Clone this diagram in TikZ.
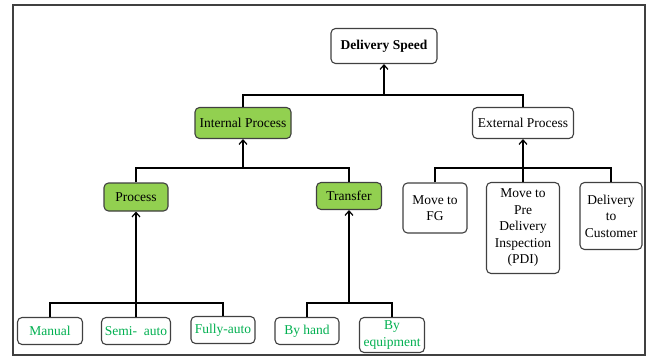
\documentclass[tikz,border=0pt]{standalone}
\usepackage{fontspec}
\setmainfont{Liberation Serif}
\usetikzlibrary{arrows.meta,positioning}
\definecolor{leafgreen}{HTML}{00B050}
\definecolor{boxgreen}{HTML}{92D050}
\definecolor{edgegray}{HTML}{404040}

\begin{document}
\begin{tikzpicture}[
    x=1pt, y=-1pt,
    every node/.style={font=\rmfamily\fontsize{13.5}{16.5}\selectfont},
    box/.style={draw=edgegray, line width=1.1pt, rounded corners=4.5pt, align=center, inner sep=0pt, fill=white},
    inbox/.style={box, fill=boxgreen},
    leaf/.style={box, text=leafgreen, minimum height=27pt},
    link/.style={line width=1.1pt},
    flow/.style={-{Straight Barb[length=4.5pt,width=8pt]}, line width=1.2pt}
]
\useasboundingbox (0,0) rectangle (655,358);
\draw[edgegray, line width=1.3pt] (13,5) rectangle (645,355);
% top levels
\node[box, minimum width=106pt, minimum height=35pt] (speed) at (384,46) {\textbf{Delivery Speed}};
\node[inbox, minimum width=96pt, minimum height=31pt] (internal) at (243,123) {Internal Process};
\node[box, minimum width=101pt, minimum height=31pt] (external) at (523,123) {External Process};
\node[inbox, minimum width=64pt, minimum height=28pt] (process) at (136,197) {Process};
\node[inbox, minimum width=65pt, minimum height=27pt] (transfer) at (349,196) {Transfer};
% external steps
\node[box, minimum width=64pt, minimum height=50pt] (movefg) at (435,208) {Move to\\FG};
\node[box, minimum width=73pt, minimum height=91pt] (movepdi) at (523,228) {Move to\\Pre\\Delivery\\Inspection\\(PDI)};
\node[box, minimum width=62pt, minimum height=67pt] (customer) at (611,216) {Delivery\\to\\Customer};
% leaves
\node[leaf, minimum width=65pt] (manual) at (50,331) {Manual};
\node[leaf, minimum width=69pt] (semi) at (136,331) {Semi-\ \ auto};
\node[leaf, minimum width=64pt] (fully) at (223,330) {Fully-auto};
\node[leaf, minimum width=64pt] (byhand) at (307,331) {By hand};
\node[leaf, minimum width=65pt, minimum height=35pt] (byequip) at (392,335) {By\\equipment};
% junctions
\coordinate (jtop) at (384,95);
\coordinate (jint) at (243,168);
\coordinate (jext) at (523,168);
\coordinate (jproc) at (136,303);
\coordinate (jtrans) at (349,303);
\draw[link] (internal.north) |- (jtop) -| (external.north);
\draw[flow] (jtop) -- (speed.south);
\draw[link] (process.north) |- (jint) -| (transfer.north);
\draw[flow] (jint) -- (internal.south);
\draw[link] (movefg.north) |- (jext) -| (customer.north);
\draw[link] (movepdi.north) -- (jext);
\draw[flow] (jext) -- (external.south);
\draw[link] (manual.north) |- (jproc) -| (fully.north);
\draw[link] (semi.north) -- (jproc);
\draw[flow] (jproc) -- (process.south);
\draw[link] (byhand.north) |- (jtrans) -| (byequip.north);
\draw[flow] (jtrans) -- (transfer.south);
\end{tikzpicture}
\end{document}
